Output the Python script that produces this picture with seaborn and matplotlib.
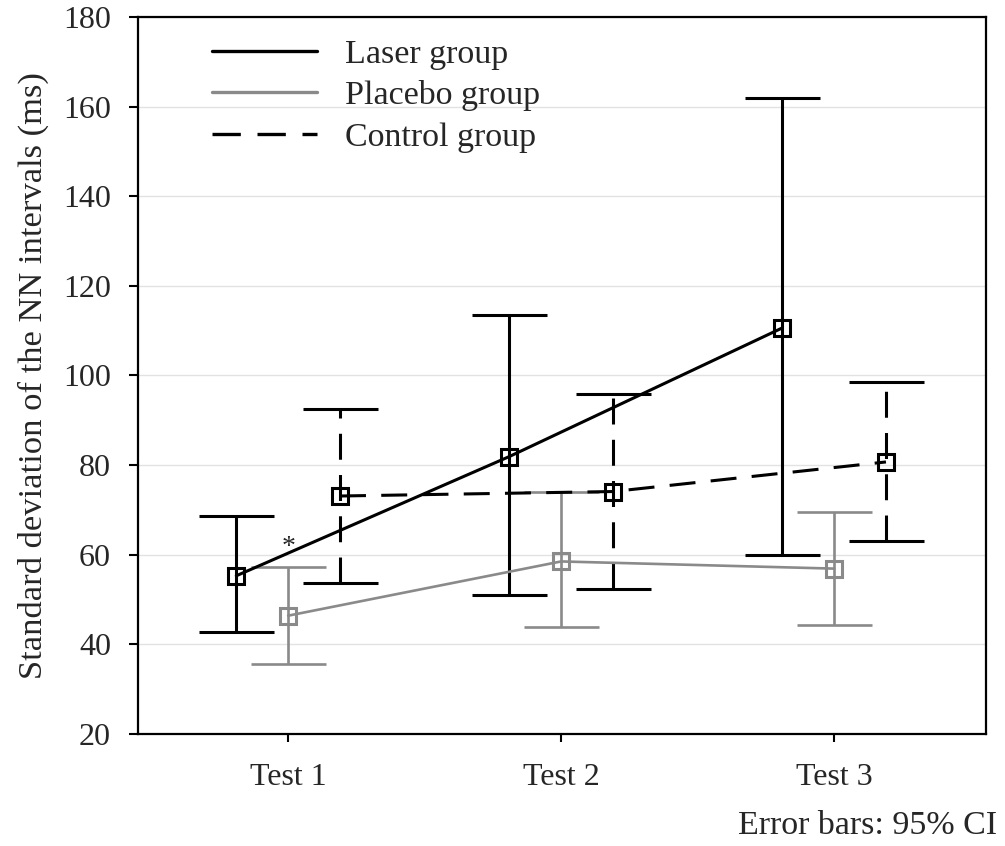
import numpy as np
import pandas as pd
import matplotlib
matplotlib.use("Agg")
import matplotlib.pyplot as plt
import seaborn as sns

# Group means and 95% confidence limits for SDNN at each test
tests = ["Test 1", "Test 2", "Test 3"]
groups = ["Laser group", "Placebo group", "Control group"]

laser_mean = [55.3, 81.9, 110.6]
laser_low = [42.8, 51.1, 60.0]
laser_high = [68.6, 113.4, 162.0]

placebo_mean = [46.4, 58.5, 56.9]
placebo_low = [35.7, 43.9, 44.4]
placebo_high = [57.3, 74.1, 69.6]

control_mean = [73.1, 74.1, 80.7]
control_low = [53.7, 52.4, 63.1]
control_high = [92.6, 95.9, 98.6]

means = {"Laser group": laser_mean, "Placebo group": placebo_mean, "Control group": control_mean}
lows = {"Laser group": laser_low, "Placebo group": placebo_low, "Control group": control_low}
highs = {"Laser group": laser_high, "Placebo group": placebo_high, "Control group": control_high}

sns.set_theme(style="white")
plt.rcParams["font.family"] = ["Liberation Serif", "DejaVu Serif"]

offsets = {"Laser group": -0.19, "Placebo group": 0.0, "Control group": 0.19}
colors = {"Laser group": "black", "Placebo group": "#8a8a8a", "Control group": "black"}
dash = (8.5, 5.0)

rows = []
for g in groups:
    for i, t in enumerate(tests):
        rows.append({"group": g, "test": t, "x": i + offsets[g],
                     "mean": means[g][i], "low": lows[g][i], "high": highs[g][i]})
df = pd.DataFrame(rows)

fig = plt.figure(figsize=(10.05, 8.46), dpi=100)
ax = fig.add_axes([0.1373, 0.1324, 0.8434, 0.8476])

lw = 2.2
for g in groups:
    sub = df[df["group"] == g]
    c = colors[g]
    glw = 1.9 if g == "Placebo group" else lw
    eb = ax.errorbar(sub["x"], sub["mean"],
                     yerr=[sub["mean"] - sub["low"], sub["high"] - sub["mean"]],
                     fmt="none", ecolor=c, elinewidth=glw, capsize=27, capthick=glw, zorder=2)
    if g == "Control group":
        for coll in eb[2]:
            coll.set_linestyle((0, dash))
    sns.lineplot(data=sub, x="x", y="mean", ax=ax, color=c, linewidth=glw,
                 marker="s", markersize=11.5, markerfacecolor="none",
                 markeredgecolor=c, markeredgewidth=2.2, label=g,
                 estimator=None, sort=False, zorder=3)
    if g == "Control group":
        ax.get_lines()[-1].set_dashes(dash)

ax.set_xlim(-0.55, 2.555)
ax.set_ylim(20, 180)
ax.set_xticks(range(len(tests)))
ax.set_xticklabels(tests)
ax.set_yticks(np.arange(20, 181, 20))
ax.set_xlabel("")
ax.set_ylabel("Standard deviation of the NN intervals (ms)", fontsize=24.8)
ax.yaxis.set_label_coords(-0.105, 0.5)

ax.grid(axis="y", color="#e2e2e2", linewidth=1.0)
ax.set_axisbelow(True)
for s in ax.spines.values():
    s.set_color("black")
    s.set_linewidth(1.6)

ax.tick_params(axis="y", which="both", left=True, length=6.5, width=1.5,
               color="black", labelsize=23, pad=13)
ax.tick_params(axis="x", which="both", bottom=True, length=6, width=1.5,
               color="black", labelsize=23, pad=15)

ax.text(0.0, 61.5, "*", fontsize=20, ha="center", va="center")

leg = ax.legend(loc="upper left", bbox_to_anchor=(0.051, 1.012), frameon=False,
                fontsize=24.5, handlelength=3.1, handletextpad=0.8, labelspacing=0.31)
for h in leg.get_lines():
    h.set_marker("")
    h.set_linewidth(2.4)

fig.text(0.992, 0.024, "Error bars: 95% CI", fontsize=24.5, ha="right", va="center")

fig.savefig("out.png", dpi=100)
